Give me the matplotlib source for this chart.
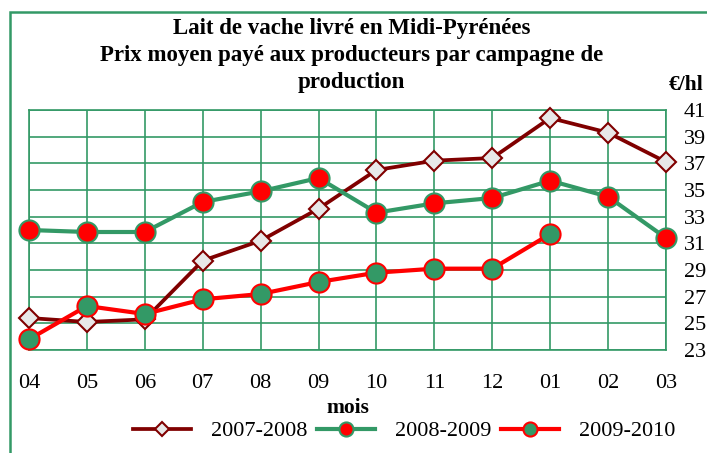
import matplotlib
matplotlib.use("Agg")
import matplotlib.pyplot as plt
from matplotlib.patches import Rectangle

plt.rcParams['font.family'] = ['Liberation Serif', 'DejaVu Serif']

mois = ["04", "05", "06", "07", "08", "09", "10", "11", "12", "01", "02", "03"]
prix_2007_2008 = [25.4, 25.1, 25.3, 29.7, 31.2, 33.6, 36.5, 37.2, 37.4, 40.4, 39.3, 37.1]
prix_2008_2009 = [32.0, 31.85, 31.85, 34.1, 34.9, 35.9, 33.3, 34.0, 34.4, 35.7, 34.5, 31.4]
prix_2009_2010 = [23.8, 26.3, 25.7, 26.8, 27.2, 28.1, 28.8, 29.1, 29.1, 31.7]
y_ticks = list(range(23, 42, 2))
titre = ["Lait de vache livré en Midi-Pyrénées",
         "Prix moyen payé aux producteurs par campagne de",
         "production"]

vert = '#339966'
rouge_fonce = '#800000'
rouge = '#FF0000'

fig = plt.figure(figsize=(7.07, 4.53), dpi=100)
fig.patches.append(Rectangle((10 / 707, -0.1), 1.2, (453 - 12) / 453 + 0.1,
                             transform=fig.transFigure, fill=False,
                             edgecolor=vert, linewidth=1.8))

ax = fig.add_axes([29 / 707, (453 - 350) / 453, (666 - 29) / 707, 240 / 453])

x = list(range(len(mois)))
ax.plot(x, prix_2007_2008, color=rouge_fonce, linewidth=2.7, marker='D', markersize=10,
        markerfacecolor='#E8E8E8', markeredgecolor=rouge_fonce, markeredgewidth=1.5,
        label='2007-2008', clip_on=False, zorder=3)
ax.plot(x, prix_2008_2009, color=vert, linewidth=3, marker='o', markersize=14.5,
        markerfacecolor=rouge, markeredgecolor=vert, markeredgewidth=1.5,
        label='2008-2009', clip_on=False, zorder=4)
ax.plot(x[:len(prix_2009_2010)], prix_2009_2010, color=rouge, linewidth=3, marker='o',
        markersize=14.5, markerfacecolor=vert, markeredgecolor=rouge, markeredgewidth=1.5,
        label='2009-2010', clip_on=False, zorder=5)

ax.set_xlim(0, len(mois) - 1)
ax.set_ylim(23, 41)
ax.set_xticks(x)
ax.set_xticklabels(mois)
ax.set_yticks(y_ticks)
ax.yaxis.tick_right()
ax.tick_params(axis='both', length=0, labelsize=16)
ax.tick_params(axis='x', pad=17)
ax.tick_params(axis='y', pad=13)
ax.grid(True, color=vert, linewidth=1.2)
for s in ax.spines.values():
    s.set_color(vert)
    s.set_linewidth(1.2)

ax.set_xlabel('mois', fontsize=15.5, fontweight='bold', labelpad=4)

# titre : une ligne par texte, posées sur leur ligne de base
for ligne, base in zip(titre, [34, 61, 88]):
    fig.text(0.497, 1 - base / 453, ligne, ha='center', va='baseline',
             fontsize=16.5, fontweight='bold')
fig.text(686 / 707, 1 - 90 / 453, "€/hl", ha='center', va='baseline',
         fontsize=15.5, fontweight='bold')

fig.legend(loc='center', bbox_to_anchor=(404 / 707, 1 - 431 / 453), ncol=3, frameon=False,
           fontsize=16, handlelength=2.6, handletextpad=0.9, columnspacing=0.45,
           markerscale=0.7)

fig.savefig("out.png", dpi=100)
